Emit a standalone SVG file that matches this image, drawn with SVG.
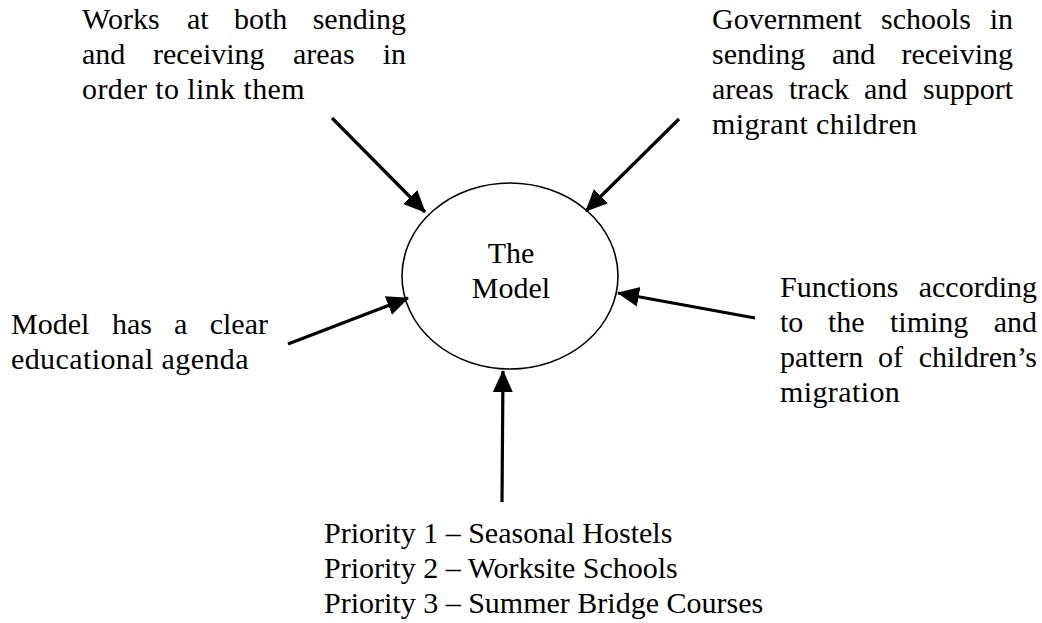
<svg xmlns="http://www.w3.org/2000/svg" width="1042" height="623" viewBox="0 0 1042 623">
<style>
text{font-family:"Liberation Serif","Times New Roman",serif;font-size:30px;fill:#000}
.e{text-anchor:end}
.m{text-anchor:middle}
.w{letter-spacing:0.4px}
.arr{stroke:#000;stroke-width:3.2;fill:none;marker-end:url(#ah)}
</style>
<defs>
<marker id="ah" markerUnits="userSpaceOnUse" markerWidth="22" markerHeight="22" refX="21" refY="10" orient="auto" viewBox="0 0 22 20">
<path d="M0,0 L22,10 L0,20 Z" fill="#000"/>
</marker>
</defs>
<rect width="1042" height="623" fill="#fff"/>
<g id="model">
<ellipse cx="510" cy="276" rx="108" ry="93" fill="none" stroke="#000" stroke-width="1.6"/>
<text class="m" x="511" y="263">The</text>
<text class="m" x="511" y="298">Model</text>
</g>
<g id="n-link">
<text x="82" y="29">Works</text><text x="187" y="29">at</text><text x="234" y="29">both</text><text class="e" x="406" y="29">sending</text>
<text x="82" y="64">and</text><text x="153" y="64">receiving</text><text x="293" y="64">areas</text><text class="e" x="406" y="64">in</text>
<text class="w" x="82" y="99">order to link them</text>
</g>
<g id="n-gov">
<text x="712" y="29">Government</text><text x="881" y="29">schools</text><text class="e" x="1013" y="29">in</text>
<text x="712" y="64">sending</text><text x="832" y="64">and</text><text class="e" x="1013" y="64">receiving</text>
<text x="712" y="99">areas</text><text x="789" y="99">track</text><text x="864" y="99">and</text><text class="e" x="1013" y="99">support</text>
<text class="w" x="712" y="134">migrant children</text>
</g>
<g id="n-agenda">
<text x="11" y="334">Model</text><text x="112" y="334">has</text><text x="174" y="334">a</text><text class="e" x="268" y="334">clear</text>
<text class="w" x="11" y="369">educational agenda</text>
</g>
<g id="n-timing">
<text x="780" y="297">Functions</text><text class="e" x="1037" y="297">according</text>
<text x="780" y="332">to</text><text x="828" y="332">the</text><text x="890" y="332">timing</text><text class="e" x="1037" y="332">and</text>
<text x="780" y="367">pattern</text><text x="878" y="367">of</text><text class="e" x="1037" y="367">children’s</text>
<text class="w" x="780" y="402">migration</text>
</g>
<g id="n-priority">
<text x="324" y="543">Priority 1 – Seasonal Hostels</text>
<text x="324" y="578">Priority 2 – Worksite Schools</text>
<text x="324" y="613">Priority 3 – Summer Bridge Courses</text>
</g>
<g id="connectors">
<line class="arr" x1="332" y1="118" x2="425" y2="212"/>
<line class="arr" x1="679" y1="119" x2="586" y2="211"/>
<line class="arr" x1="288" y1="344" x2="408" y2="298"/>
<line class="arr" x1="755" y1="318" x2="618" y2="293"/>
<line class="arr" x1="502" y1="502" x2="503" y2="371"/>
</g>
</svg>
